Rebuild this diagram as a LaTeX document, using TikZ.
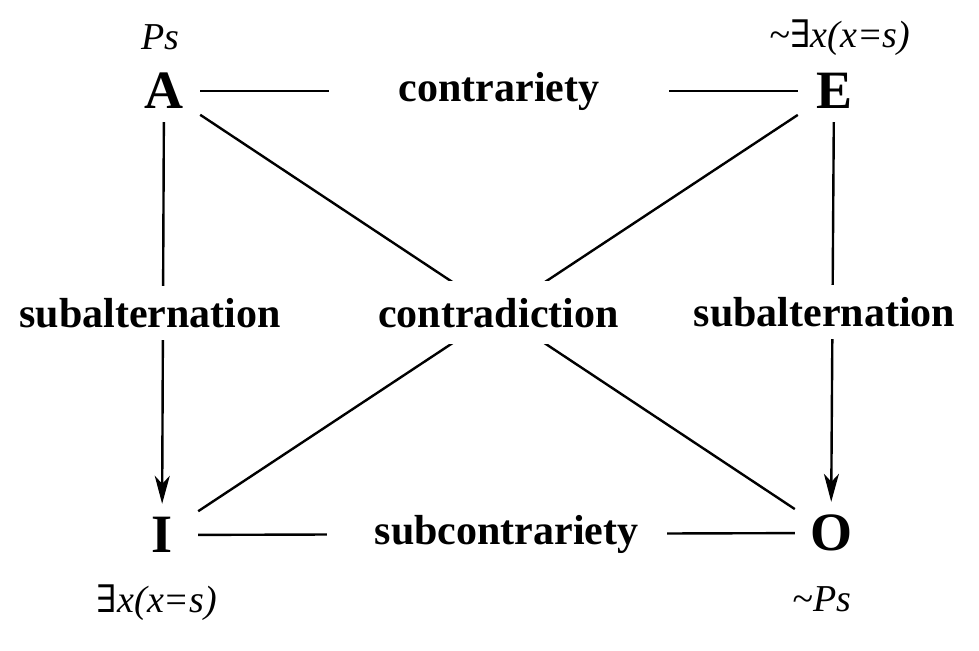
\documentclass[tikz,border=0pt]{standalone}
\usepackage{fontspec}
\setmainfont{Liberation Serif}
\newfontfamily\symfont{DejaVu Serif}
\usetikzlibrary{arrows.meta,positioning}

\begin{document}
\begin{tikzpicture}[x=1pt,y=-1pt,line width=2.4pt,
main node/.style={font=\fontsize{54}{60}\selectfont\bfseries,minimum width=70pt,minimum height=60pt,inner sep=0pt},
gap node/.style={font=\fontsize{42}{50}\selectfont\bfseries,fill=white,inner ysep=4pt,minimum width=340pt},
side node/.style={font=\fontsize{42}{50}\selectfont\bfseries,fill=white,inner xsep=2pt,inner ysep=12pt},
cross node/.style={font=\fontsize{42}{50}\selectfont\bfseries,fill=white,inner xsep=2pt,inner ysep=17pt},
form node/.style={font=\fontsize{38}{44}\selectfont\itshape,inner sep=0pt},
tip/.style={-{Stealth[length=28pt,width=15pt,inset=8pt]}}]
\useasboundingbox (0,0) rectangle (979,650);
\node[main node] (A) at (164,91) {A};
\node[main node] (E) at (834,91) {E};
\node[main node] (I) at (162,535) {I};
\node[main node] (O) at (831,533) {O};
\node[form node] (fA) at (160,37) {Ps};
\node[form node] (fE) at (840,38) {\textasciitilde{\symfont\upshape ∃}x(x=s)};
\node[form node] (fI) at (157,603) {{\symfont\upshape ∃}x(x=s)};
\node[form node] (fO) at (822,599) {\textasciitilde Ps};
% sides of the square
\draw (A) -- node[gap node] {contrariety} (E);
\draw (I) -- node[gap node] {\hspace*{20pt}subcontrariety} (O);
\draw[tip] (A) -- node[side node,xshift=-13pt] {subalternation} (I);
\draw[tip] (E) -- node[side node,xshift=-8pt] {subalternation} (O);
% diagonals
\draw (A) -- (O);
\draw (E) -- (I);
\node[cross node] (contra) at (intersection of A--O and E--I) {contradiction};
\end{tikzpicture}
\end{document}
